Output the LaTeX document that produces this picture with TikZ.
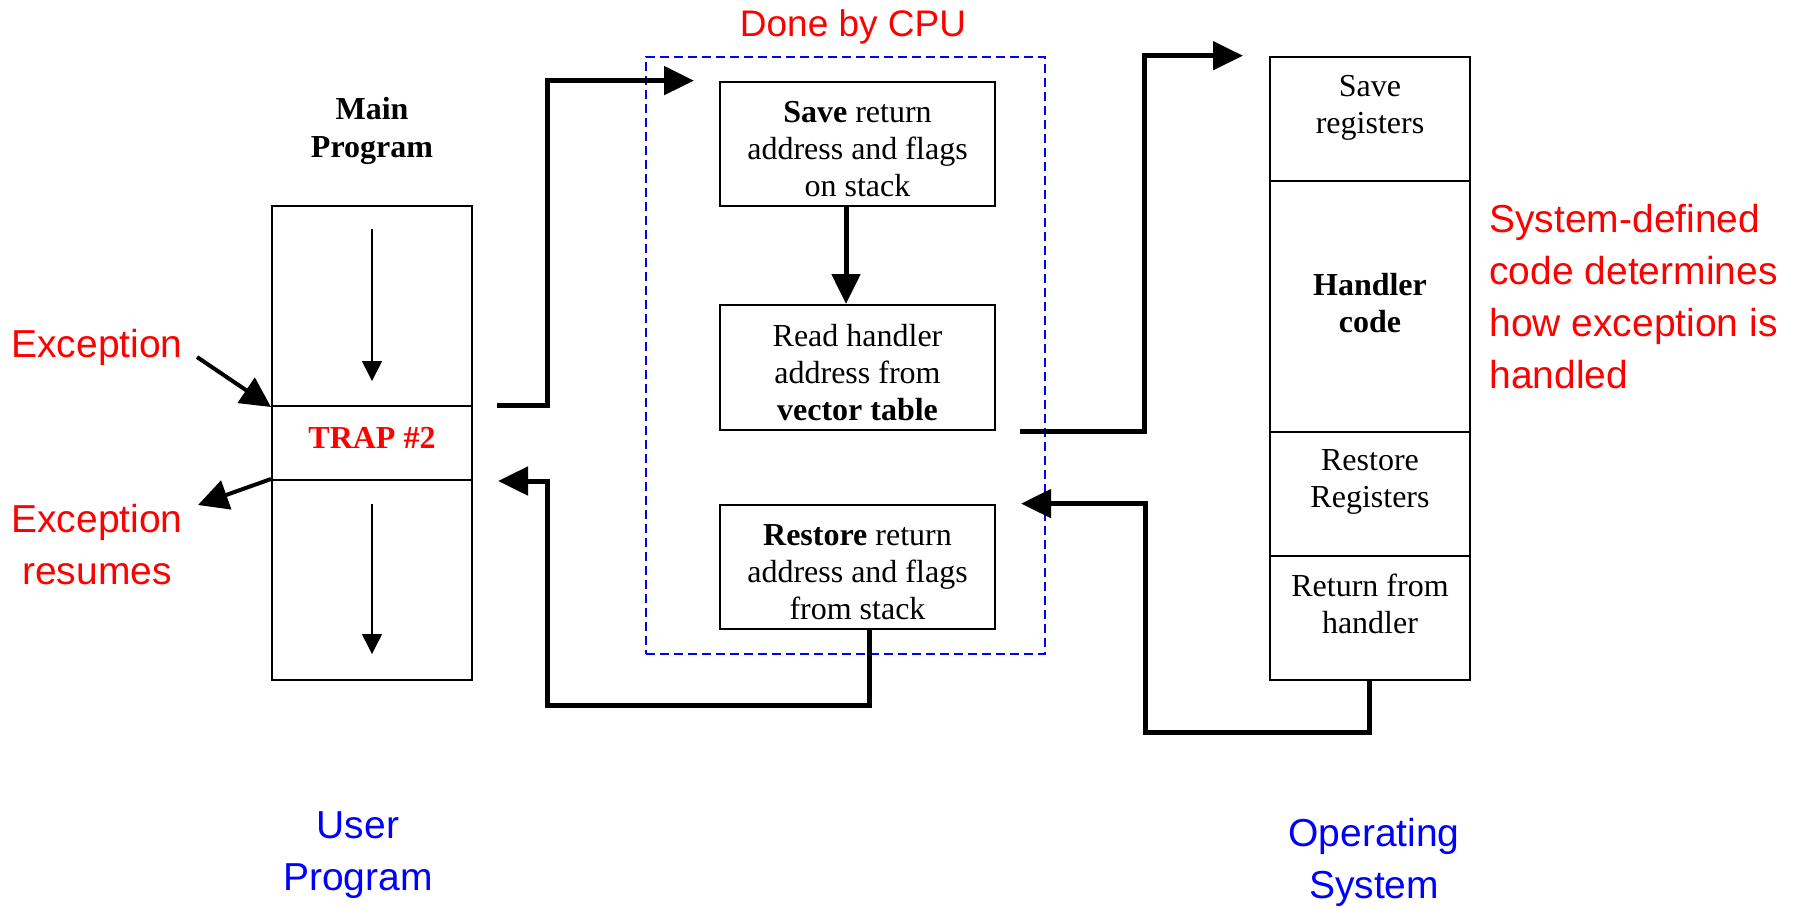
\documentclass[tikz,border=0pt]{standalone}
\usepackage{fontspec}
\setmainfont{Liberation Serif}
\newfontfamily\labelfont{Liberation Sans}
\usetikzlibrary{arrows.meta}
\definecolor{notered}{RGB}{255,0,0}
\definecolor{noteblue}{RGB}{0,0,255}

\begin{document}
\begin{tikzpicture}[x=0.5pt,y=-0.5pt,
  box/.style={draw, line width=1pt, inner sep=0pt},
  serif/.style={inner sep=0pt, align=center, font=\fontsize{16}{18.5}\selectfont},
  note/.style={inner sep=0pt, text=notered, font=\labelfont\fontsize{19.5}{26}\selectfont},
  tag/.style={note, text=noteblue, align=center},
  flow/.style={line width=2.5pt, -{Triangle[length=15pt,width=14pt]}},
  exarrow/.style={line width=2pt, -{Triangle[length=15pt,width=15pt]}},
  seqarrow/.style={line width=0.75pt, -{Triangle[length=10pt,width=10pt]}}
]
\useasboundingbox (0,0) rectangle (1800,907);

% user program
\node[serif, font=\bfseries\fontsize{16}{19}\selectfont] (mainlbl) at (372,131) {Main\\Program};
\node[box, minimum width=100pt, minimum height=100pt] (mtop) at (372,306) {};
\node[box, minimum width=100pt, minimum height=37pt] (mtrap) at (372,443) {};
\node[box, minimum width=100pt, minimum height=100pt] (mbot) at (372,580) {};
\node[serif, text=notered, font=\bfseries\fontsize{16}{18.5}\selectfont] (traptxt)
  at ([yshift=2.5pt]mtrap.center) {TRAP \#2};
\draw[seqarrow] ([yshift=-12pt]mtop.north) -- ([yshift=13pt]mtop.south);
\draw[seqarrow] ([yshift=-12.5pt]mbot.north) -- ([yshift=13.5pt]mbot.south);

\node[note, align=center] (exc) at (97,347.5) {Exception};
\node[note, align=center] (excres) at (97,545) {Exception\\resumes};
\coordinate (excfrom) at (197,357);
\coordinate (resto) at (198,505);
\draw[exarrow] (excfrom) -- (mtop.south west);
\draw[exarrow] (mbot.north west) -- (resto);

\node[tag] (userlbl) at (358,855) {User\\Program};

% CPU steps
\node[draw=noteblue, line width=1pt, dash pattern=on 4.5pt off 2.5pt,
      minimum width=199.5pt, minimum height=298.5pt, inner sep=0pt] (cpu) at (845.5,355.5) {};
\node[note, font=\labelfont\fontsize{18.5}{24}\selectfont] (cpulbl) at (853,27) {Done by CPU};
\node[box, minimum width=137.5pt, minimum height=62.2pt] (save) at (857.5,143.8) {};
\node[box, minimum width=137.5pt, minimum height=62.5pt] (read) at (857.5,367.5) {};
\node[box, minimum width=137.5pt, minimum height=62.2pt] (rest) at (857.5,566.8) {};
\node[serif] (savetxt) at ([yshift=-2.5pt]save.center)
  {\textbf{Save} return\\address and flags\\on stack};
\node[serif] (readtxt) at ([yshift=-2.5pt]read.center)
  {Read handler\\address from\\\textbf{vector table}};
\node[serif] (resttxt) at ([yshift=-2.5pt]rest.center)
  {\textbf{Restore} return\\address and flags\\from stack};

% operating system
\node[box, minimum width=100.25pt, minimum height=62.15pt] (os1) at (1369.75,118.85) {};
\node[box, minimum width=100.25pt, minimum height=125.5pt] (os2) at (1369.75,306.5) {};
\node[box, minimum width=100.25pt, minimum height=62pt] (os3) at (1369.75,494) {};
\node[box, minimum width=100.25pt, minimum height=62pt] (os4) at (1369.75,618) {};
\node[serif] (os1t) at (1370,108) {Save\\registers};
\node[serif, font=\bfseries\fontsize{16}{18.5}\selectfont] (os2t) at (1370,303) {Handler\\code};
\node[serif] (os3t) at (1370,482) {Restore\\Registers};
\node[serif] (os4t) at (1370,604) {Return from\\handler};

\node[note, align=left, anchor=west] (sysnote) at (1489,297)
  {System-defined\\code determines\\how exception is\\handled};
\node[tag] (oslbl) at (1374,862) {Operating\\System};

% control flow
\draw[flow] ([xshift=12pt]mtrap.north east) -- ++(50,0) |- ([xshift=-12.5pt]save.north west);
\draw[flow] ([xshift=-5.75pt]save.south) -- ([xshift=-5.75pt]read.north);
\draw[flow] ([xshift=12pt]read.south east) -- ++(124.5,0) |- ([xshift=-12.75pt]os1.north west);
\draw[flow] (os4.south) -- ++(0,51) -| ([xshift=74.5pt]rest.north east)
  -- ([xshift=12.5pt]rest.north east);
\draw[flow] ([xshift=5.75pt]rest.south) -- ++(0,75) -| ([xshift=37pt]mtrap.south east)
  -- ([xshift=12.5pt]mtrap.south east);
\end{tikzpicture}
\end{document}
